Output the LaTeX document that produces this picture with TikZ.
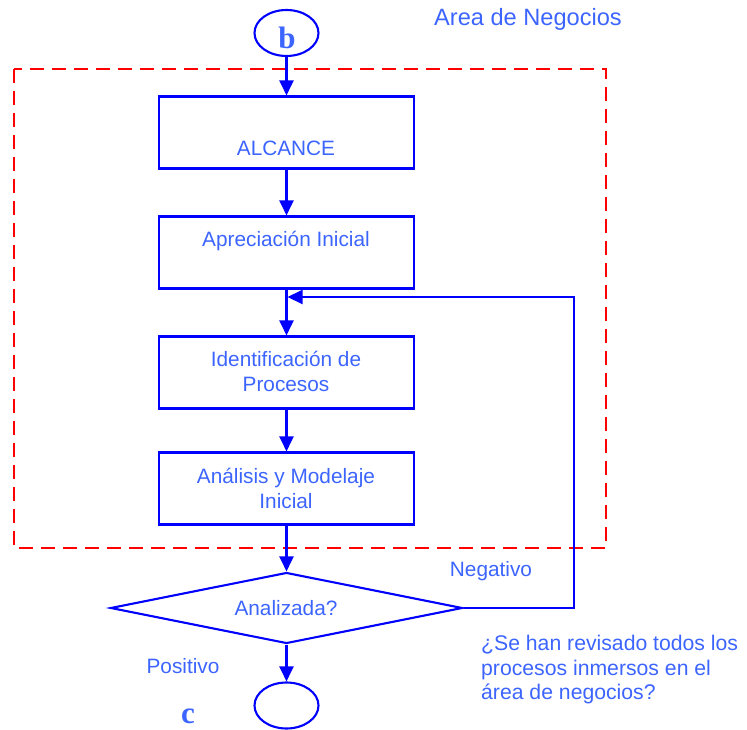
\documentclass[tikz,border=0pt]{standalone}
\usepackage{fontspec}
\setmainfont{Liberation Sans}
\newfontfamily\letterfont{Liberation Serif}
\usetikzlibrary{arrows.meta,shapes.geometric}
\definecolor{flowline}{RGB}{0,0,255}
\definecolor{flowtext}{RGB}{60,100,255}
\definecolor{areared}{RGB}{255,0,0}
\tikzset{
  flow/.style={draw=flowline, line width=2.1pt},
  arrow/.style={flow, -{Triangle[length=15pt,width=14pt]}},
  procbox/.style={flow, rectangle, minimum width=255pt, minimum height=72pt, inner sep=0pt},
  terminal/.style={flow, ellipse, minimum width=64pt, minimum height=46pt, inner sep=0pt},
  txt/.style={text=flowtext, font=\fontsize{20.8}{25}\selectfont, inner sep=0pt, align=center},
  letter/.style={text=flowtext, font=\letterfont\bfseries\fontsize{31}{31}\selectfont, inner sep=0pt},
}
\begin{document}
\begin{tikzpicture}[x=1pt,y=-1pt]
\useasboundingbox (0,0) rectangle (747,730);

% business area frame
\draw[areared, line width=1.5pt, dash pattern=on 14pt off 8pt] (14,69) rectangle (606,548);
\node[txt, font=\fontsize{23.6}{28}\selectfont] (area) at (528,19) {Area de Negocios};

% start connector
\node[terminal] (start) at (286.5,33) {};
\node[letter] (bl) at (287,38) {b};

% process boxes
\node[procbox] (alcance) at (286.5,132.5) {};
\node[txt] (alcanceT) at (286,148) {ALCANCE};
\node[procbox] (aprec) at (286.5,252.5) {};
\node[txt] (aprecT) at (286,241) {Apreciación Inicial};
\node[procbox] (ident) at (286.5,372.5) {};
\node[txt] (identT) at (286,371.5) {Identificación de\\Procesos};
\node[procbox] (anal) at (286.5,488.5) {};
\node[txt] (analT) at (286,488.5) {Análisis y Modelaje\\Inicial};

% decision
\node[flow, diamond, aspect=5.03, minimum width=352pt, minimum height=71pt, inner sep=0pt] (dec) at (286.5,608) {};
\node[txt] (decT) at (286,608) {Analizada?};

% end connector
\node[terminal] (end) at (286.5,705.5) {};
\node[letter] (cl) at (188,716.5) {c};

% main flow
\draw[arrow] (start.south) -- (alcance.north);
\draw[arrow] (alcance.south) -- (aprec.north);
\draw[arrow] (aprec.south) -- (ident.north);
\draw[arrow] (ident.south) -- (anal.north);
\draw[arrow] (anal.south) -- (dec.north);
\draw[arrow] (dec.south) -- (end.north);

% loop back on negative answer
\coordinate (ret) at (287.5,297);
\draw[arrow] (dec.east) -- (574,608) -- (574,297) -- (ret);

% labels
\node[txt] (neg) at (491,571) {Negativo};
\node[txt] (pos) at (183,666) {Positivo};
\node[txt, align=left, anchor=west, font=\fontsize{21.2}{24.5}\selectfont] (quest) at (481,670) {¿Se han revisado todos los\\procesos inmersos en el\\área de negocios?};
\end{tikzpicture}
\end{document}
